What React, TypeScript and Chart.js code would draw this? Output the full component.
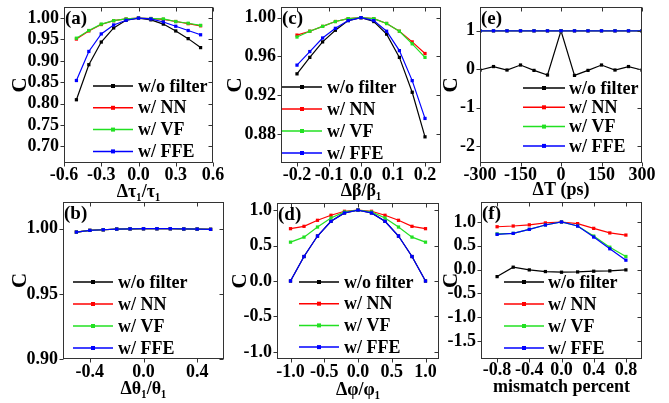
import React, { useEffect, useRef } from "react";
import { Chart, registerables } from "chart.js";
Chart.register(...registerables);

const SERIF = "'Liberation Serif','Times New Roman',Times,serif";
const SERIES = ["w/o filter", "w/ NN", "w/ VF", "w/ FFE"];
const COLORS = ["#000000", "#ff0000", "#22e022", "#0000ff"];

// (a) Δτ1/τ1
const aX = [-0.5, -0.4, -0.3, -0.2, -0.1, 0, 0.1, 0.2, 0.3, 0.4, 0.5];
const aNone = [0.809, 0.891, 0.944, 0.977, 0.995, 1.0, 0.996, 0.986, 0.970, 0.952, 0.931];
const aNN = [0.951, 0.970, 0.985, 0.994, 0.998, 1.0, 0.999, 0.997, 0.992, 0.987, 0.982];
const aVF = [0.953, 0.971, 0.986, 0.994, 0.998, 1.0, 0.999, 0.998, 0.992, 0.988, 0.983];
const aFFE = [0.854, 0.922, 0.963, 0.984, 0.995, 1.0, 0.998, 0.991, 0.981, 0.971, 0.961];
const aXTicks = [-0.6, -0.3, 0, 0.3, 0.6];
const aYTicks = [0.7, 0.75, 0.8, 0.85, 0.9, 0.95, 1.0];

// (b) Δθ1/θ1
const bX = [-0.5, -0.4, -0.3, -0.2, -0.1, 0, 0.1, 0.2, 0.3, 0.4, 0.5];
const bNone = [0.9974, 0.9987, 0.9992, 0.9997, 0.9999, 1.0, 1.0, 1.0, 0.9998, 0.9997, 0.9995];
const bNN = [0.9974, 0.9987, 0.9992, 0.9997, 0.9999, 1.0, 1.0, 1.0, 0.9998, 0.9997, 0.9995];
const bVF = [0.9974, 0.9987, 0.9992, 0.9997, 0.9999, 1.0, 1.0, 1.0, 0.9998, 0.9997, 0.9995];
const bFFE = [0.9974, 0.9987, 0.9992, 0.9997, 0.9999, 1.0, 1.0, 1.0, 0.9998, 0.9997, 0.9995];
const bXTicks = [-0.4, 0, 0.4];
const bYTicks = [0.9, 0.95, 1.0];

// (c) Δβ/β1
const cX = [-0.2, -0.16, -0.12, -0.08, -0.04, 0, 0.04, 0.08, 0.12, 0.16, 0.2];
const cNone = [0.942, 0.959, 0.975, 0.987, 0.997, 1.0, 0.996, 0.983, 0.959, 0.923, 0.877];
const cNN = [0.982, 0.986, 0.991, 0.996, 0.999, 1.0, 0.999, 0.994, 0.986, 0.975, 0.963];
const cVF = [0.980, 0.986, 0.991, 0.996, 0.999, 1.0, 0.999, 0.994, 0.986, 0.973, 0.959];
const cFFE = [0.951, 0.965, 0.979, 0.989, 0.997, 1.0, 0.997, 0.986, 0.966, 0.935, 0.896];
const cXTicks = [-0.2, -0.1, 0, 0.1, 0.2];
const cYTicks = [0.88, 0.92, 0.96, 1.0];

// (d) Δφ/φ1
const dX = [-1, -0.8, -0.6, -0.4, -0.2, 0, 0.2, 0.4, 0.6, 0.8, 1];
const dNone = [0.0, 0.345, 0.634, 0.842, 0.96, 1.0, 0.96, 0.842, 0.634, 0.345, 0.0];
const dNN = [0.738, 0.771, 0.856, 0.927, 0.983, 1.0, 0.983, 0.927, 0.856, 0.771, 0.738];
const dVF = [0.548, 0.619, 0.761, 0.889, 0.974, 1.0, 0.974, 0.889, 0.761, 0.619, 0.548];
const dFFE = [0.0, 0.345, 0.634, 0.842, 0.96, 1.0, 0.96, 0.842, 0.634, 0.345, 0.0];
const dXTicks = [-1, -0.5, 0, 0.5, 1];
const dYTicks = [-1, -0.5, 0, 0.5, 1];

// (e) ΔT (ps)
const eX = [-300, -250, -200, -150, -100, -50, 0, 50, 100, 150, 200, 250, 300];
const eNone = [-0.02, 0.07, -0.02, 0.11, -0.03, -0.15, 1.0, -0.16, -0.03, 0.11, -0.02, 0.07, -0.02];
const eNN = [1, 1, 1, 1, 1, 1, 1, 1, 1, 1, 1, 1, 1];
const eVF = [1, 1, 1, 1, 1, 1, 1, 1, 1, 1, 1, 1, 1];
const eFFE = [1, 1, 1, 1, 1, 1, 1, 1, 1, 1, 1, 1, 1];
const eXTicks = [-300, -150, 0, 150, 300];
const eYTicks = [-2, -1, 0, 1];

// (f) mismatch percent
const fX = [-0.8, -0.6, -0.4, -0.2, 0, 0.2, 0.4, 0.6, 0.8];
const fNone = [-0.148, 0.05, -0.007, -0.042, -0.056, -0.05, -0.035, -0.028, -0.007];
const fNN = [0.9, 0.915, 0.94, 0.98, 1.0, 0.965, 0.866, 0.77, 0.725];
const fVF = [0.75, 0.76, 0.845, 0.937, 1.0, 0.915, 0.704, 0.47, 0.275];
const fFFE = [0.74, 0.76, 0.845, 0.937, 1.0, 0.915, 0.683, 0.437, 0.197];
const fXTicks = [-0.8, -0.4, 0, 0.4, 0.8];
const fYTicks = [-1.5, -1, -0.5, 0, 0.5, 1];

type Cfg = {
  label: string; xTitle: string;
  L: number; R: number; T: number; B: number; cx: number; titleY: number; tickPad: number;
  xMin: number; xMax: number; yMin: number; yMax: number;
  xTicks: number[]; yTicks: number[]; xDec: number; yDec: number;
  xs: number[]; ys: number[][];
  leg: { x1: number; x2: number; tx: number; y0: number; dy: number };
};

const PANELS: Cfg[] = [
  { label: "(a)", xTitle: "Δτ₁/τ₁", L: 64, R: 213, T: 7, B: 163, cx: 19, titleY: 192, tickPad: 2,
    xMin: -0.6, xMax: 0.6, yMin: 0.661, yMax: 1.026, xTicks: aXTicks, yTicks: aYTicks, xDec: 1, yDec: 2,
    xs: aX, ys: [aNone, aNN, aVF, aFFE], leg: { x1: 93, x2: 133, tx: 138, y0: 86, dy: 21.8 } },
  { label: "(b)", xTitle: "Δθ₁/θ₁", L: 63, R: 224, T: 202, B: 359, cx: 19, titleY: 389, tickPad: 3,
    xMin: -0.6, xMax: 0.6, yMin: 0.9, yMax: 1.0205, xTicks: bXTicks, yTicks: bYTicks, xDec: 1, yDec: 2,
    xs: bX, ys: [bNone, bNN, bVF, bFFE], leg: { x1: 73, x2: 113, tx: 118, y0: 282, dy: 22 } },
  { label: "(c)", xTitle: "Δβ/β₁", L: 281, R: 441, T: 7, B: 163, cx: 234, titleY: 191, tickPad: 2,
    xMin: -0.25, xMax: 0.25, yMin: 0.85, yMax: 1.011, xTicks: cXTicks, yTicks: cYTicks, xDec: 1, yDec: 2,
    xs: cX, ys: [cNone, cNN, cVF, cFFE], leg: { x1: 282, x2: 322, tx: 327, y0: 87, dy: 22 } },
  { label: "(d)", xTitle: "Δφ/φ₁", L: 277, R: 439, T: 203, B: 359, cx: 238.5, titleY: 390, tickPad: 3,
    xMin: -1.2, xMax: 1.2, yMin: -1.1, yMax: 1.1, xTicks: dXTicks, yTicks: dYTicks, xDec: 1, yDec: 1,
    xs: dX, ys: [dNone, dNN, dVF, dFFE], leg: { x1: 299, x2: 339, tx: 344, y0: 282, dy: 21.7 } },
  { label: "(e)", xTitle: "ΔT (ps)", L: 480, R: 642, T: 7, B: 163, cx: 449.5, titleY: 190, tickPad: 2,
    xMin: -300, xMax: 300, yMin: -2.44, yMax: 1.62, xTicks: eXTicks, yTicks: eYTicks, xDec: 0, yDec: 0,
    xs: eX, ys: [eNone, eNN, eVF, eFFE], leg: { x1: 523, x2: 565, tx: 569, y0: 88, dy: 19.3 } },
  { label: "(f)", xTitle: "mismatch percent", L: 481, R: 642, T: 202, B: 359, cx: 449.5, titleY: 387, tickPad: 1,
    xMin: -1, xMax: 1, yMin: -1.88, yMax: 1.42, xTicks: fXTicks, yTicks: fYTicks, xDec: 1, yDec: 1,
    xs: fX, ys: [fNone, fNN, fVF, fFFE], leg: { x1: 504, x2: 544, tx: 548, y0: 282, dy: 22 } },
];

function makeDecor(cfg: Cfg) {
  return {
    id: "decor",
    afterDraw(chart: any) {
      const { ctx, chartArea: a, scales } = chart;
      ctx.save();
      ctx.strokeStyle = "#333";
      ctx.lineWidth = 1;
      const l = Math.round(a.left) + 0.5, r = Math.round(a.right) - 0.5;
      const t = Math.round(a.top) + 0.5, b = Math.round(a.bottom) - 0.5;
      ctx.strokeRect(l, t, r - l, b - t);
      ctx.beginPath();
      for (const tk of scales.x.ticks) {
        const px = Math.round(scales.x.getPixelForValue(tk.value)) + 0.5;
        ctx.moveTo(px, b); ctx.lineTo(px, b + 4);
        ctx.moveTo(px, t); ctx.lineTo(px, t + 4);
      }
      for (const tk of scales.y.ticks) {
        const py = Math.round(scales.y.getPixelForValue(tk.value)) + 0.5;
        ctx.moveTo(l, py); ctx.lineTo(l - 4, py);
        ctx.moveTo(r, py); ctx.lineTo(r - 4, py);
      }
      ctx.stroke();
      // panel label
      ctx.fillStyle = "#000";
      ctx.font = `bold 19px ${SERIF}`;
      ctx.textBaseline = "middle";
      ctx.textAlign = "left";
      ctx.fillText(cfg.label, a.left + 1, a.top + 12);
      // legend
      const lg = cfg.leg;
      ctx.font = `bold 18px ${SERIF}`;
      chart.data.datasets.forEach((ds: any, i: number) => {
        const y = lg.y0 + i * lg.dy;
        ctx.strokeStyle = ds.borderColor;
        ctx.lineWidth = 1.5;
        ctx.beginPath();
        ctx.moveTo(lg.x1, y); ctx.lineTo(lg.x2, y);
        ctx.stroke();
        ctx.fillStyle = ds.borderColor;
        const m = (lg.x1 + lg.x2) / 2;
        ctx.fillRect(m - 2, y - 2, 4, 4);
        ctx.fillStyle = "#000";
        ctx.fillText(ds.label, lg.tx, y + 1);
      });
      ctx.restore();
    },
  };
}

function Panel({ cfg }: { cfg: Cfg }) {
  const ref = useRef<HTMLCanvasElement>(null);
  useEffect(() => {
    const padLeft = cfg.cx - 10.8;
    const W = cfg.L - padLeft;
    const H = cfg.titleY + 10.8 - cfg.B;
    const padBottom = 403 - cfg.B - H;
    const tickFont = { family: SERIF, size: 18, weight: "bold" as const };
    const chart = new Chart(ref.current!, {
      type: "line",
      data: {
        datasets: cfg.ys.map((ys, i) => ({
          label: SERIES[i],
          data: cfg.xs.map((x, j) => ({ x, y: ys[j] })),
          order: 3 - i,
          borderColor: COLORS[i],
          backgroundColor: COLORS[i],
          pointBackgroundColor: COLORS[i],
          pointBorderColor: COLORS[i],
          borderWidth: 1.2,
          pointRadius: 2.3,
          pointBorderWidth: 0,
          pointStyle: "rect",
          tension: 0,
          fill: false,
        })),
      },
      options: {
        animation: false,
        responsive: false,
        devicePixelRatio: 1,
        events: [],
        layout: { padding: { left: padLeft, right: 669 - cfg.R, top: cfg.T, bottom: padBottom } },
        plugins: { legend: { display: false }, tooltip: { enabled: false } },
        scales: {
          x: {
            type: "linear",
            min: cfg.xMin, max: cfg.xMax,
            grid: { display: false, drawTicks: false },
            border: { display: false },
            afterBuildTicks: (s: any) => { s.ticks = cfg.xTicks.map((v) => ({ value: v })); },
            afterFit: (s: any) => { s.height = H; s.paddingLeft = 0; s.paddingRight = 0; s.paddingTop = 0; s.paddingBottom = 0; },
            ticks: {
              autoSkip: false, maxRotation: 0, padding: cfg.tickPad, color: "#000", font: tickFont,
              callback: (v: any) => Number(v).toFixed(cfg.xDec),
            },
            title: { display: true, text: cfg.xTitle, color: "#000", padding: 0, font: { family: SERIF, size: 18, weight: "bold" } },
          },
          y: {
            type: "linear",
            min: cfg.yMin, max: cfg.yMax,
            grid: { display: false, drawTicks: false },
            border: { display: false },
            afterBuildTicks: (s: any) => { s.ticks = cfg.yTicks.map((v) => ({ value: v })); },
            afterFit: (s: any) => { s.width = W; s.paddingLeft = 0; s.paddingRight = 0; s.paddingTop = 0; s.paddingBottom = 0; },
            ticks: {
              padding: 5, color: "#000", font: tickFont,
              callback: (v: any) => Number(v).toFixed(cfg.yDec),
            },
            title: { display: true, text: "C", color: "#000", padding: 0, font: { family: SERIF, size: 21, weight: "bold" } },
          },
        },
      },
      plugins: [makeDecor(cfg)],
    } as any);
    return () => chart.destroy();
  }, []);
  return (
    <canvas
      ref={ref}
      width={669}
      height={403}
      style={{ position: "absolute", left: 0, top: 0, width: 669, height: 403 }}
    />
  );
}

export default function App() {
  return (
    <div style={{ position: "fixed", left: 0, top: 0, width: 669, height: 403, background: "#fff" }}>
      {PANELS.map((p) => (
        <Panel key={p.label} cfg={p} />
      ))}
    </div>
  );
}
